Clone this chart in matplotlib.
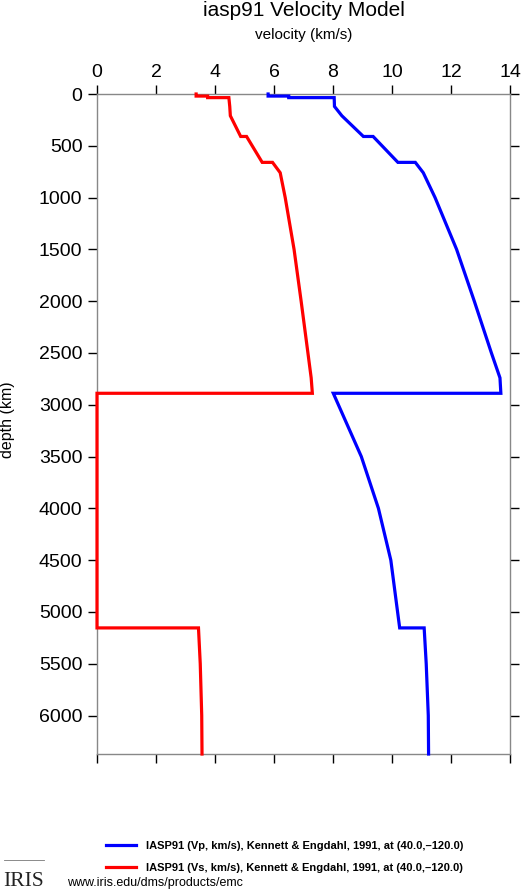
import matplotlib
matplotlib.use("Agg")
import matplotlib.pyplot as plt
from matplotlib.lines import Line2D

plt.rcParams['font.family'] = ['Liberation Sans', 'DejaVu Sans']

# IASP91 model nodes (depth km, Vp km/s, Vs km/s)
depth = [0, 20, 20, 35, 35, 120, 210, 410, 410, 660, 660, 760, 1000, 1500,
         2000, 2500, 2740, 2889, 2889, 3500, 4000, 4500, 5153.9, 5153.9,
         5500, 6000, 6371]
vp = [5.80, 5.80, 6.50, 6.50, 8.04, 8.05, 8.30, 9.03, 9.36, 10.20, 10.79,
      11.06, 11.46, 12.19, 12.79, 13.37, 13.66, 13.69, 8.01, 8.96, 9.54,
      9.96, 10.26, 11.09, 11.16, 11.23, 11.24]
vs = [3.36, 3.36, 3.75, 3.75, 4.47, 4.50, 4.52, 4.87, 5.07, 5.60, 5.95,
      6.21, 6.38, 6.68, 6.92, 7.15, 7.26, 7.30, 0, 0, 0, 0, 0, 3.44,
      3.50, 3.55, 3.56]

x_ticks = [0, 2, 4, 6, 8, 10, 12, 14]
y_ticks = list(range(0, 6001, 500))
labels = ["IASP91 (Vp, km/s), Kennett & Engdahl, 1991, at (40.0,\u2013120.0)",
          "IASP91 (Vs, km/s), Kennett & Engdahl, 1991, at (40.0,\u2013120.0)"]

W, H = 521, 890
fig = plt.figure(figsize=(W / 100, H / 100), dpi=100)
L, R, T, B = 97, 510, 94, 754
ax = fig.add_axes([L / W, 1 - B / H, (R - L) / W, (B - T) / H])

lp, = ax.plot(vp, depth, color='#0000ff', lw=2.3, zorder=3, clip_on=False,
              solid_joinstyle='miter')
ls, = ax.plot(vs, depth, color='#ff0000', lw=2.3, zorder=3, clip_on=False,
              solid_joinstyle='miter')

ax.set_xlim(0, 14)
ax.set_ylim(6371, 0)
ax.set_xticks(x_ticks)
ax.set_yticks(y_ticks)
ax.xaxis.set_ticks_position('both')
ax.yaxis.set_ticks_position('both')
ax.tick_params(axis='x', which='both', direction='out', length=6.5, width=1,
               color='black', labeltop=True, labelbottom=False,
               labelsize=14, pad=3)
ax.tick_params(axis='y', which='both', direction='out', length=6.5, width=1,
               color='black', labelleft=True, labelright=False,
               labelsize=14, pad=4)
for s in ax.spines.values():
    s.set_color('#888888')
    s.set_linewidth(1)

ax.set_xlabel('velocity (km/s)', fontsize=11)
ax.xaxis.set_label_position('top')
ax.xaxis.set_label_coords(0.5, (B - 35) / (B - T))
ax.xaxis.label.set_va('center')
ax.set_ylabel('depth (km)', fontsize=11.5)
ax.yaxis.set_label_coords((8 - L) / (R - L), 0.506)
ax.yaxis.label.set_va('center')

fig.suptitle('iasp91 Velocity Model', x=(L + R) / 2 / W, y=1 - 11 / H,
             va='center', fontsize=15)

fig.legend([lp, ls], labels, loc='upper left',
           bbox_to_anchor=(106 / W, 1 - 841 / H), frameon=False,
           prop={'weight': 'bold', 'size': 8}, handlelength=2.7,
           handletextpad=0.9, labelspacing=1.05, borderpad=0, borderaxespad=0)

fig.text(67 / W, 1 - 883 / H, 'www.iris.edu/dms/products/emc', fontsize=9,
         va='center', ha='left')
fig.text(3 / W, 1 - 886 / H, 'IRIS', fontsize=15.5, va='baseline', ha='left',
         family=['Liberation Serif', 'DejaVu Serif'], color='#222222')
fig.add_artist(Line2D([4 / W, 44 / W], [1 - 860 / H, 1 - 860 / H],
                      color='#777777', lw=0.6))

fig.savefig('out.png', dpi=100)
